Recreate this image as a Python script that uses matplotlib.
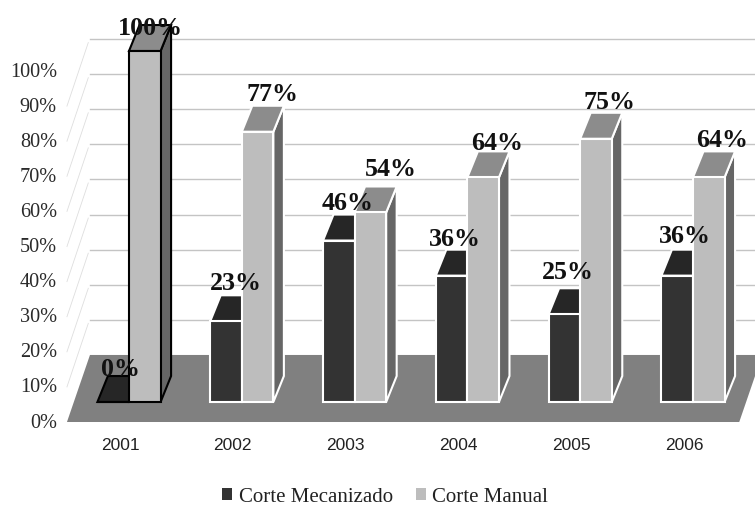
import matplotlib.pyplot as plt
from matplotlib.patches import Patch, Polygon

years = ["2001", "2002", "2003", "2004", "2005", "2006"]
mecanizado = [0, 23, 46, 36, 25, 36]
manual = [100, 77, 54, 64, 75, 64]
pct_ticks = [0, 10, 20, 30, 40, 50, 60, 70, 80, 90, 100]
grid_levels = [10, 20, 30, 40, 50, 60, 70, 80, 90]

# nudges for the value labels, in pixels from the back edge of each bar top
nudge_mec = [(-3, 8), (-1, 13), (-2, 12), (-7, 11), (-7, 17), (-3, 14)]
nudge_man = [(-5, -2), (4, 12), (10, 18), (3, 9), (3, 11), (3, 12)]

DEPTH_X = 0.093
DEPTH_Y = 7.4
WIDTH = 0.28
FRONT = -5.7
FLOOR_X = 0.204
FLOOR_Y = 19.1

DARK = ("#333333", "#262626", "#4d4d4d")
LIGHT = ("#bdbdbd", "#8c8c8c", "#666666")


def bar3d(ax, x, h, colors, edge):
    # side and top first, the front face goes over them
    side = [(x + WIDTH, 0), (x + WIDTH + DEPTH_X, DEPTH_Y),
            (x + WIDTH + DEPTH_X, h + DEPTH_Y), (x + WIDTH, h)]
    top = [(x, h), (x + DEPTH_X, h + DEPTH_Y),
           (x + WIDTH + DEPTH_X, h + DEPTH_Y), (x + WIDTH, h)]
    front = [(x, 0), (x + WIDTH, 0), (x + WIDTH, h), (x, h)]
    ax.add_patch(Polygon(side, fc=colors[2], ec=edge, lw=1.5, zorder=3))
    ax.add_patch(Polygon(top, fc=colors[1], ec=edge, lw=1.5, zorder=3))
    ax.add_patch(Polygon(front, fc=colors[0], ec=edge, lw=1.5, zorder=3))


plt.rcParams["font.family"] = ["Liberation Serif", "DejaVu Serif"]

fig = plt.figure(figsize=(7.55, 5.06), dpi=100)
ax = fig.add_axes([0, 0, 1, 1])
ax.set_xlim(-129 / 112.8, 626 / 112.8)
ax.set_ylim(-103 / 3.51, 403 / 3.51)
ax.axis("off")

# floor and the walls behind the bars
left = -0.55
right = 5.41
base = FRONT + FLOOR_Y
ax.add_patch(Polygon([(left, FRONT), (right, FRONT), (right + FLOOR_X, base),
                      (left + FLOOR_X, base)], fc="#808080", ec="none", zorder=1))
for level in grid_levels:
    ax.plot([left + FLOOR_X, 5.7], [base + level, base + level],
            color="#c4c4c4", lw=1.0, zorder=0.5)
    ax.plot([left, left + FLOOR_X - 0.015], [FRONT + level, base + level - 1],
            color="#dedede", lw=0.6, zorder=0.5)

for i, year in enumerate(years):
    edge = "black" if i == 0 else "white"
    bar3d(ax, i - WIDTH, mecanizado[i], DARK, edge)
    bar3d(ax, i, manual[i], LIGHT, edge)
    ax.text(i - 0.08, -12.2, year, family="Liberation Sans", fontsize=12.5,
            ha="center", va="center", color="#222222")

    for val, x, nudge in [(mecanizado[i], i - WIDTH, nudge_mec[i]),
                          (manual[i], i, nudge_man[i])]:
        ax.annotate(f"{val}%", xy=(x + WIDTH / 2 + DEPTH_X, val + DEPTH_Y),
                    xytext=nudge, textcoords="offset pixels", ha="center",
                    va="center", fontsize=18.7, fontweight="bold", zorder=5,
                    color="#111111")

for p in pct_ticks:
    ax.text(-129 / 112.8 + 57 / 112.8, FRONT + p, f"{p}%", fontsize=14.6,
            ha="right", va="center", color="#2a2a2a")

handles = [Patch(fc=DARK[0], label="Corte Mecanizado"),
           Patch(fc=LIGHT[0], label="Corte Manual")]
ax.legend(handles=handles, ncol=2, frameon=False, fontsize=15,
          labelcolor="#222222", loc="center",
          bbox_to_anchor=(385 / 755, 1 - 498 / 506),
          handlelength=0.48, handleheight=0.48, handletextpad=0.33,
          columnspacing=1.1, borderpad=0)

fig.savefig("out.png", dpi=100)
